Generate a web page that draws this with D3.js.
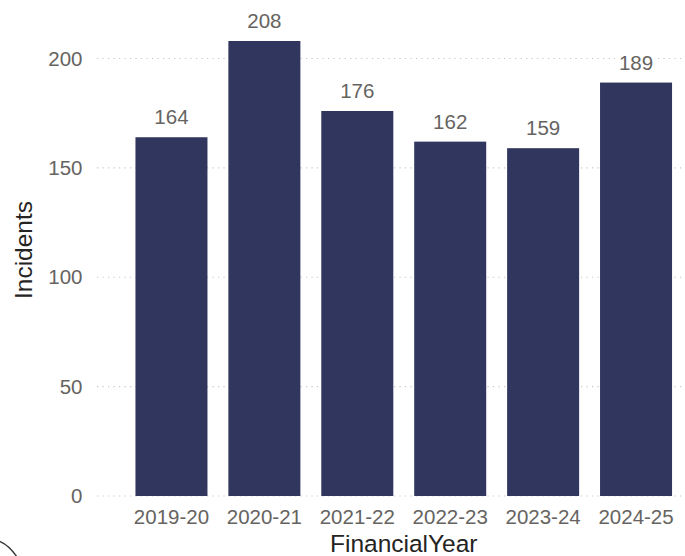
<!DOCTYPE html>
<html>
<head>
<meta charset="utf-8">
<script src="https://cdn.jsdelivr.net/npm/d3@7"></script>
<style>
  body { margin: 0; background: #fff; }
  svg { display: block; font-family: "Liberation Sans", Arial, sans-serif; }
  .tick-label { fill: #666461; font-size: 20.5px; }
  .data-label { fill: #666461; font-size: 20.5px; }
  .axis-title { fill: #252423; font-size: 24.5px; }
</style>
</head>
<body>
<svg class="incidents-chart" width="685" height="556"></svg>
<script>
// chart values
var years = ['2019-20', '2020-21', '2021-22', '2022-23', '2023-24', '2024-25'];
var incidents = [164, 208, 176, 162, 159, 189];
var yTicks = [0, 50, 100, 150, 200];

var svg = d3.select('svg.incidents-chart');

// plot area (pixels)
var plot = {l: 125, r: 682.5, t: 58.5, b: 496, gridL: 97, gridR: 684};

// scales
var xScale = d3.scaleBand()
    .domain(years)
    .range([plot.l, plot.r])
    .paddingInner(0.225)
    .paddingOuter(0.1125);
var yScale = d3.scaleLinear()
    .domain([0, 200])
    .range([plot.b, plot.t]);

// dotted gridlines
var gridG = svg.append('g').attr('class', 'grid');
gridG.selectAll('line')
    .data(yTicks)
    .enter()
    .append('line')
    .attr('x1', plot.gridL)
    .attr('x2', plot.gridR)
    .attr('y1', function(d) { return yScale(d); })
    .attr('y2', function(d) { return yScale(d); })
    .attr('stroke', '#c8c6c4')
    .attr('stroke-width', 1.2)
    .attr('stroke-dasharray', '1.2,4.3');

// y tick labels
svg.append('g')
    .selectAll('text')
    .data(yTicks)
    .enter()
    .append('text')
    .attr('class', 'tick-label')
    .attr('x', 82.5)
    .attr('y', function(d) { return yScale(d); })
    .attr('dy', '0.35em')
    .attr('text-anchor', 'end')
    .text(function(d) { return d; });

// bars
var bars = svg.append('g').attr('class', 'bars')
    .selectAll('rect')
    .data(incidents)
    .enter()
    .append('rect')
    .attr('x', function(d, i) { return xScale(years[i]); })
    .attr('width', xScale.bandwidth())
    .attr('y', function(d) { return yScale(d); })
    .attr('height', function(d) { return yScale(0) - yScale(d); })
    .attr('fill', '#31365f');

// data labels (white box hides the grid behind them)
var labelG = svg.append('g').attr('class', 'data-labels')
    .selectAll('g')
    .data(incidents)
    .enter()
    .append('g')
    .attr('transform', function(d, i) {
        return 'translate(' + [xScale(years[i]) + xScale.bandwidth() / 2, yScale(d) - 13] + ')';
    });
labelG.append('rect')
    .attr('x', -21)
    .attr('y', -17)
    .attr('width', 42)
    .attr('height', 19)
    .attr('fill', '#fff');
labelG.append('text')
    .attr('class', 'data-label')
    .attr('text-anchor', 'middle')
    .text(function(d) { return d; });

// x tick labels
svg.append('g')
    .selectAll('text')
    .data(years)
    .enter()
    .append('text')
    .attr('class', 'tick-label')
    .attr('x', function(d) { return xScale(d) + xScale.bandwidth() / 2; })
    .attr('y', 523.5)
    .attr('text-anchor', 'middle')
    .text(function(d) { return d; });

// axis titles
svg.append('text')
    .attr('class', 'axis-title')
    .attr('x', (xScale(years[0]) + xScale(years[years.length - 1]) + xScale.bandwidth()) / 2)
    .attr('y', 552)
    .attr('text-anchor', 'middle')
    .text('FinancialYear');
svg.append('text')
    .attr('class', 'axis-title')
    .attr('transform', 'translate(32,250) rotate(-90)')
    .attr('text-anchor', 'middle')
    .text('Incidents');

// rounded corner of the surrounding card, bottom left
svg.append('path')
    .attr('d', 'M-1,541 Q9,545 17,557')
    .attr('fill', 'none')
    .attr('stroke', '#333')
    .attr('stroke-width', 1.4);
</script>
</body>
</html>
